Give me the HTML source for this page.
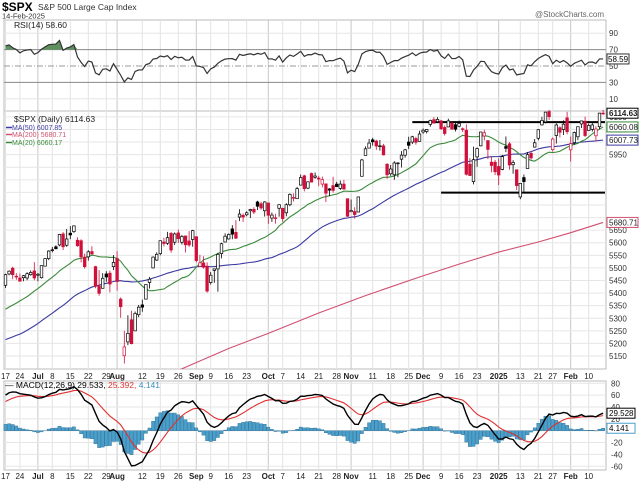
<!DOCTYPE html>
<html><head><meta charset="utf-8"><style>
html,body{margin:0;padding:0;background:#fff;}
svg{display:block;font-family:"Liberation Sans",sans-serif;}
</style></head><body>
<svg id="chart" width="640" height="482" viewBox="0 0 640 482" xmlns="http://www.w3.org/2000/svg">
<text x="2" y="11" font-size="12" font-weight="bold">$SPX</text>
<text x="38" y="10" font-size="8.5" fill="#333">S&amp;P 500 Large Cap Index</text>
<text x="2" y="18.5" font-size="7.5" fill="#333">14-Feb-2025</text>
<text x="604" y="17" font-size="8" fill="#666" text-anchor="end">@StockCharts.com</text>
<g id="g"></g>
</svg>
<script>
const priorCloses=[5204,5202,5209,5160,5199,5123,5061,5051,5022,5011,4967,5010,5070,5071,5048,5100,5116,5036,5018,5064,5128,5181,5187,5188,5214,5223,5221,5247,5308,5297,5303,5308,5321,5307,5268,5304,5306,5266,5235,5278,5283,5291,5354,5352,5347,5360,5375,5421,5434,5431];
const closes=[5473,5487,5473,5464,5447,5469,5477,5482,5460,5475,5509,5537,5567,5572,5576,5633,5584,5615,5631,5667,5588,5544,5505,5564,5555,5427,5399,5459,5464,5436,5522,5446,5346,5186,5240,5199,5319,5344,5344,5434,5455,5543,5554,5608,5597,5620,5571,5635,5616,5625,5592,5591,5648,5529,5520,5503,5408,5471,5496,5554,5596,5626,5633,5634,5618,5714,5702,5719,5732,5722,5745,5738,5762,5709,5710,5699,5751,5696,5751,5792,5780,5815,5859,5815,5842,5841,5865,5853,5851,5797,5809,5808,5823,5833,5813,5705,5728,5712,5782,5929,5973,5996,6001,5984,5985,5949,5870,5893,5917,5917,5948,5969,5987,6021,5999,6032,6047,6050,6086,6075,6090,6053,6034,6084,6051,6051,6074,6050,5872,5867,5930,5974,6040,6037,5971,5907,5882,5869,5942,5975,5909,5919,5827,5836,5843,5950,5937,5997,6049,6086,6119,6101,6012,6068,6039,6071,6041,5994,6038,6061,6084,6026,6066,6068,6052,6115,6114.63];
const opens=[5431,5476,5499,5467,5460,5461,5460,5473,5488,5471,5461,5507,5537,5572,5584,5591,5635,5590,5638,5644,5610,5608,5543,5544,5565,5505,5428,5419,5476,5479,5505,5537,5376,5151,5206,5294,5250,5314,5353,5376,5442,5500,5531,5557,5603,5598,5637,5602,5639,5602,5627,5607,5613,5624,5506,5520,5507,5442,5490,5496,5557,5603,5615,5655,5641,5702,5709,5711,5727,5733,5762,5755,5727,5758,5698,5696,5737,5737,5719,5751,5778,5775,5829,5866,5817,5875,5860,5857,5833,5834,5814,5827,5833,5816,5833,5775,5723,5724,5722,5864,5947,5976,6009,6004,5985,5985,5912,5874,5870,5917,5932,5948,6000,6000,6014,6003,6040,6042,6070,6089,6081,6084,6058,6060,6075,6069,6063,6053,6047,5912,5843,5941,5985,6024,6006,5920,5920,5903,5891,5982,5993,5910,5890,5782,5859,5895,5955,5980,6015,6068,6080,6121,5970,6026,6057,6050,6096,5969,5998,6021,6072,6083,6046,6050,6025,6061,6115];
const highs=[5477,5490,5505,5479,5478,5472,5483,5490,5523,5480,5509,5539,5570,5583,5590,5635,5642,5655,5666,5669,5622,5614,5557,5570,5586,5508,5491,5479,5487,5489,5551,5566,5383,5250,5312,5330,5327,5353,5374,5434,5464,5546,5562,5608,5620,5643,5643,5641,5652,5631,5628,5646,5651,5625,5552,5546,5522,5484,5497,5560,5600,5637,5637,5670,5690,5733,5716,5725,5735,5741,5767,5763,5765,5758,5720,5715,5753,5739,5757,5796,5796,5822,5871,5870,5844,5879,5879,5866,5863,5835,5817,5862,5842,5847,5850,5775,5772,5741,5783,5933,5983,6012,6017,6009,6008,5993,5916,5909,5924,5920,5964,5973,6021,6025,6021,6045,6054,6052,6089,6099,6099,6088,6066,6093,6079,6079,6085,6058,6070,5936,5982,5978,6040,6049,6006,5941,5929,5935,5949,6022,6000,5928,5890,5836,5871,5960,5965,6012,6051,6100,6119,6128,6018,6074,6063,6086,6120,6022,6042,6062,6084,6101,6073,6076,6063,6116,6128];
const lows=[5420,5471,5455,5453,5446,5447,5451,5469,5451,5447,5458,5507,5531,5562,5574,5586,5571,5584,5614,5639,5584,5522,5497,5529,5554,5419,5390,5419,5445,5403,5491,5410,5302,5120,5193,5196,5249,5304,5326,5376,5418,5498,5528,5550,5585,5591,5560,5591,5599,5593,5561,5584,5584,5522,5504,5497,5402,5434,5441,5406,5538,5601,5613,5614,5615,5686,5683,5705,5698,5714,5730,5731,5704,5675,5683,5676,5704,5683,5705,5745,5764,5775,5829,5804,5813,5840,5854,5825,5820,5762,5785,5799,5823,5810,5811,5703,5723,5696,5722,5864,5947,5976,5986,5969,5966,5947,5854,5866,5850,5860,5899,5938,5972,5992,5990,6003,6033,6034,6061,6073,6079,6048,6026,6060,6050,6042,6059,6040,5867,5866,5832,5902,5983,6007,5932,5880,5869,5829,5888,5960,5890,5874,5809,5773,5803,5895,5930,5978,6007,6066,6074,6088,5962,5994,6018,6028,6031,5923,5990,6007,6056,6020,6046,6042,6003,6051,6108];
const ma200Idx=[48,62,73,87,100,115,126,137,148,157,166];
const ma200Vals=[5093,5180,5240,5321,5390,5464,5515,5563,5603,5640,5680.71];
const dateLabels=["17","24","Jul","8","15","22","29","Aug","12","19","26","Sep","9","16","23","Oct","7","14","21","28","Nov","11","18","25","Dec","9","16","23","2025","13","21","27","Feb","10"];
const dateIdx=[0,4,9,13,18,23,28,31,38,43,48,53,57,62,67,73,77,82,87,92,96,102,107,112,116,121,126,131,137,143,148,152,157,162];
const priceTicks=[5150,5200,5250,5300,5350,5400,5450,5500,5550,5600,5650,5700,5750,5800,5850,5900,5950,6000,6050,6100];
const rsiTicks=[90,70,50,30,10];
const macdTicks=[80,60,40,20,0,-20,-40,-60];
const resistanceLevel=6079, supportLevel=5799;
const resistanceStart=113, supportStart=121;

const NS="http://www.w3.org/2000/svg";
const G=document.getElementById('g');
function mk(tag,attrs,parent){const e=document.createElementNS(NS,tag);for(const k in attrs)e.setAttribute(k,attrs[k]);(parent||G).appendChild(e);return e;}
const L=4,R=606;
const X=i=>5.5+i*3.6;
const RSI_T=20,RSI_B=111,PR_T=111,PR_B=369,M_T=381,M_B=470;
const yR=v=>107-v*0.82;
const yP=p=>192.4-(p-5800)*0.2517;
const yM=v=>430.7-v*0.593;
const monthSet=new Set(["Jul","Aug","Sep","Oct","Nov","Dec","2025","Feb"]);

[[RSI_T,RSI_B,'rsi-panel'],[PR_T,PR_B,'price-panel'],[M_T,M_B,'macd-panel']].forEach(([t,b,n])=>{
  const r=mk('rect',{x:L,y:t,width:R-L,height:b-t,fill:'#fff',stroke:'#bbb','stroke-width':1});
  
  
});
dateIdx.forEach((di,k)=>{
  [[RSI_T,RSI_B],[PR_T,PR_B],[M_T,M_B]].forEach(([t,b])=>{
    const l=mk('line',{x1:X(di),x2:X(di),y1:t,y2:b,stroke:monthSet.has(dateLabels[k])?'#c8c8c8':'#e2e2e2','stroke-width':1});
    
    
  });
  [379,479].forEach(yy=>{
    const t=mk('text',{x:X(di),y:yy,'font-size':8,'text-anchor':'middle','font-weight':monthSet.has(dateLabels[k])?'bold':'normal',fill:'#222'});
    t.textContent=dateLabels[k];
    
    
  });
});
priceTicks.forEach(p=>{
  const y=yP(p); if(y<PR_T||y>PR_B)return;
  const l=mk('line',{x1:L,x2:R,y1:y,y2:y,stroke:'#e6e6e6'});
  
  
  if(p>=5950&&p!==5700||p<5700){const t=mk('text',{x:609,y:y+3,'font-size':8,fill:'#333'});t.textContent=p;
  
  }
});
rsiTicks.forEach(v=>{
  const y=yR(v);
  const l=mk('line',{x1:L,x2:R,y1:y,y2:y,stroke:(v==70||v==30)?'#888':(v==50?'#999':'#e6e6e6'),'stroke-dasharray':v==50?'6,2,1,2':'none'});
  
  
  const t=mk('text',{x:609,y:y+3,'font-size':8,fill:'#333'});t.textContent=v;
  
  
});
const all=priorCloses.concat(closes), P=priorCloses.length;
let ag=0,al=0;for(let i=1;i<=14;i++){const d=all[i]-all[i-1];if(d>0)ag+=d;else al-=d;}ag/=14;al/=14;
const rsi=[];
for(let i=15;i<all.length;i++){const d=all[i]-all[i-1];ag=(ag*13+Math.max(d,0))/14;al=(al*13+Math.max(-d,0))/14;if(i>=P)rsi.push(100-100/(1+ag/al));}
let pts=rsi.map((v,i)=>X(i)+','+yR(v)).join(' ');
const rfillPts=rsi.map((v,i)=>X(i)+','+yR(Math.max(v,70))).join(' ');
const rf=mk('polygon',{points:X(0)+','+yR(70)+' '+rfillPts+' '+X(rsi.length-1)+','+yR(70),fill:'#5e8f5e'});


const rl=mk('polyline',{points:pts,fill:'none',stroke:'#333','stroke-width':1.2});


const rv=rsi[rsi.length-1];
const rb=mk('rect',{x:607,y:yR(rv)-5,width:22,height:10,fill:'#fff',stroke:'#333'});


const rt=mk('text',{x:608,y:yR(rv)+3,'font-size':8});rt.textContent=rv.toFixed(2);


const rlg=mk('text',{x:14,y:28,'font-size':8.5,fill:'#222'});rlg.textContent='RSI(14) 58.60';



function sma(n,i){let s=0;for(let k=P+i-n+1;k<=P+i;k++)s+=all[k];return s/n;}
const clipR=mk('clipPath',{id:'pc'});mk('rect',{x:L,y:PR_T,width:R-L,height:PR_B-PR_T},clipR);
const ma200=mk('polyline',{points:ma200Idx.map((d,k)=>X(d)+','+yP(ma200Vals[k])).join(' '),fill:'none',stroke:'#d05070','stroke-width':1.1,'clip-path':'url(#pc)'});


const ma50=mk('polyline',{points:closes.map((c,i)=>X(i)+','+yP(sma(50,i))).join(' '),fill:'none',stroke:'#3a3aa0','stroke-width':1.1,'clip-path':'url(#pc)'});


const ma20=mk('polyline',{points:closes.map((c,i)=>X(i)+','+yP(sma(20,i))).join(' '),fill:'none',stroke:'#3a8a3a','stroke-width':1.1,'clip-path':'url(#pc)'});


const res=mk('line',{x1:X(resistanceStart),x2:R-1,y1:yP(resistanceLevel),y2:yP(resistanceLevel),stroke:'#000','stroke-width':2});


const sup=mk('line',{x1:X(supportStart),x2:R-1,y1:yP(supportLevel),y2:yP(supportLevel),stroke:'#000','stroke-width':2});


closes.forEach((c,i)=>{
  const o=opens[i],prev=i?closes[i-1]:priorCloses[P-1];
  const col=c>=prev?'#000':'#d0103a';
  const x=X(i);
  const w=mk('line',{x1:x,x2:x,y1:yP(highs[i]),y2:yP(lows[i]),stroke:col,'stroke-width':0.8});
  
  
  const top=yP(Math.max(o,c)),bot=yP(Math.min(o,c));
  const b=mk('rect',{x:x-1.3,y:top,width:2.6,height:Math.max(bot-top,0.8),fill:c<o?col:'#fff',stroke:col,'stroke-width':0.7});
  
  
});
function box(val,col,name){const y=yP(val);
  const r=mk('rect',{x:607,y:y-5,width:31,height:10,fill:'#fff',stroke:col});
  
  
  const t=mk('text',{x:609,y:y+3,'font-size':8,fill:'#222','font-weight':name=='last-price'?'bold':'normal'});t.textContent=val.toFixed(2);
  
  }
const ma20v=sma(20,closes.length-1),ma50v=sma(50,closes.length-1);
box(ma200Vals[ma200Vals.length-1],'#d05070','ma200');
box(ma50v,'#3a3aa0','ma50');
box(ma20v,'#3a8a3a','ma20');
box(closes[closes.length-1],'#000','last-price');
const lg=[["$SPX (Daily) 6114.63","#222",122],["MA(50) 6007.85","#3a3aa0",130],["MA(200) 5680.71","#d05070",137],["MA(20) 6060.17","#3a8a3a",145]];
lg.forEach(([s,c,y],k)=>{
  if(k){const l=mk('line',{x1:6,x2:12,y1:y-2.5,y2:y-2.5,stroke:c,'stroke-width':1.5});
  
  }
  const t=mk('text',{x:k?12:14,y:y,'font-size':k?7:8.5,fill:c});t.textContent=s;
  
  
});
macdTicks.forEach(v=>{
  const y=yM(v);
  const l=mk('line',{x1:L,x2:R,y1:y,y2:y,stroke:'#e6e6e6'});
  
  
  const t=mk('text',{x:611,y:y+3,'font-size':8,fill:'#333'});t.textContent=v;
  
  
});
let e12=all[0],e26=all[0],sig=0;const mac=[],sg=[];
for(let i=1;i<all.length;i++){e12+=(all[i]-e12)*2/13;e26+=(all[i]-e26)*2/27;const m=e12-e26;sig+=(m-sig)*0.2;if(i>=P){mac.push(m);sg.push(sig);}}
mac.forEach((m,i)=>{const h=m-sg[i];const y0=yM(0),y1=yM(h);
  const b=mk('rect',{x:X(i)-1.6,y:Math.min(y0,y1),width:3.2,height:Math.abs(y1-y0),fill:'#4aa0cc',stroke:'#2a6a90','stroke-width':0.4});
  
  });
const ms=mk('polyline',{points:sg.map((v,i)=>X(i)+','+yM(v)).join(' '),fill:'none',stroke:'#e03030','stroke-width':1.1});


const ml=mk('polyline',{points:mac.map((v,i)=>X(i)+','+yM(v)).join(' '),fill:'none',stroke:'#000','stroke-width':1.4});


const mlast=mac[mac.length-1],hlast=mlast-sg[sg.length-1];
[[mlast,'#000','macd-value'],[hlast,'#4aa0cc','histogram-value']].forEach(([v,c,n])=>{
  const y=yM(v);
  const r=mk('rect',{x:607,y:y-5,width:28,height:10,fill:'#fff',stroke:c});
  
  
  const t=mk('text',{x:609,y:y+3,'font-size':8});t.textContent=v.toFixed(3);
  
  
});
const mlg=mk('text',{x:5,y:388,'font-size':8.5});
mlg.innerHTML='<tspan fill="#000">&#8212; MACD(12,26,9) 29.533, </tspan><tspan fill="#e03030">25.392, </tspan><tspan fill="#3a90c0">4.141</tspan>';


</script>
</body></html>
